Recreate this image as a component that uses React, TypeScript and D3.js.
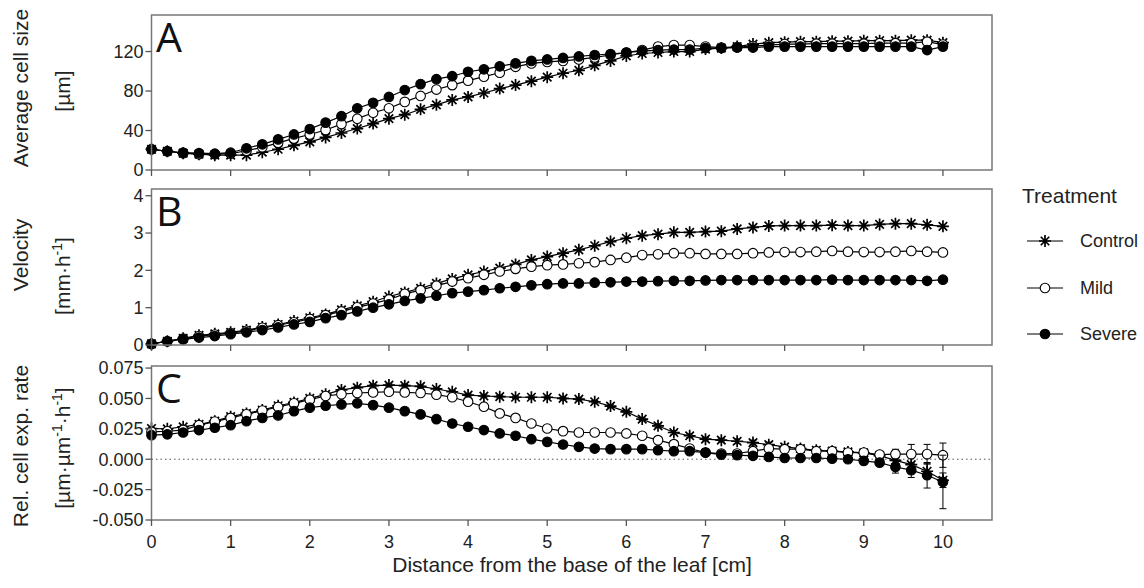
import React from 'react';
import * as d3 from 'd3';

// distance from leaf base [cm]
const distance = [
  0, 0.2, 0.4, 0.6, 0.8, 1, 1.2, 1.4, 1.6, 1.8, 2, 2.2, 2.4, 2.6, 2.8, 3, 3.2, 3.4, 3.6, 3.8,
  4, 4.2, 4.4, 4.6, 4.8, 5, 5.2, 5.4, 5.6, 5.8, 6, 6.2, 6.4, 6.6, 6.8, 7, 7.2, 7.4, 7.6, 7.8,
  8, 8.2, 8.4, 8.6, 8.8, 9, 9.2, 9.4, 9.6, 9.8, 10,
];

const treatments = ['Control', 'Mild', 'Severe'];

// A: average cell size [µm]
const sizeControl = [
  21, 19, 17, 16, 15, 15, 15, 18, 21, 25, 28.5, 33, 37.5, 42, 47, 52, 56, 61.5, 66, 71,
  74, 78, 82.5, 86, 90, 94, 98, 101, 106, 110.5, 115.5, 118, 119, 120, 120, 122.5, 123.5, 125, 127.5, 129,
  129.5, 130, 130, 130.5, 130.5, 131, 131, 131, 131.5, 131.5, 129,
];
const sizeMild = [
  21, 19, 17, 16, 16, 16.5, 19.5, 23, 27.5, 32, 36, 40.5, 46.5, 52, 58, 62.5, 69, 75, 81.5, 86,
  90.5, 94.5, 98.5, 104.5, 108, 109.5, 110.5, 112, 114, 116.5, 119, 121.5, 125, 126.5, 126.5, 125, 124, 124.5, 125.5, 126.5,
  127.5, 127.5, 128, 128, 128, 128, 128.5, 128.5, 128.5, 130, 127,
];
const sizeSevere = [
  21, 19, 17.5, 17, 16.5, 17.5, 22, 26, 31, 36, 41.5, 48, 54.5, 62.5, 68, 74, 81, 87, 92, 95,
  99.5, 102, 105, 108, 110.5, 112, 113.5, 115, 116.5, 117.5, 119, 120.5, 121.5, 122, 122, 123.5, 123.5, 124, 124, 125,
  125, 125, 125, 125, 125, 125, 125, 125, 125, 121.5, 125,
];

// B: velocity [mm h-1]
const velControl = [
  0.03, 0.1, 0.18, 0.26, 0.3, 0.34, 0.4, 0.48, 0.55, 0.64, 0.73, 0.82, 0.94, 1.05, 1.16, 1.3, 1.41, 1.52, 1.65, 1.77,
  1.88, 1.97, 2.06, 2.16, 2.28, 2.37, 2.46, 2.55, 2.66, 2.77, 2.86, 2.93, 2.97, 3.02, 3.02, 3.04, 3.05, 3.11, 3.15, 3.19,
  3.2, 3.2, 3.2, 3.21, 3.2, 3.2, 3.23, 3.25, 3.25, 3.22, 3.18,
];
const velMild = [
  0.03, 0.1, 0.17, 0.24, 0.28, 0.32, 0.38, 0.46, 0.53, 0.61, 0.7, 0.8, 0.9, 1.01, 1.11, 1.22, 1.37, 1.47, 1.59, 1.7,
  1.79, 1.88, 1.97, 2.04, 2.1, 2.14, 2.16, 2.19, 2.22, 2.28, 2.34, 2.41, 2.43, 2.46, 2.46, 2.44, 2.44, 2.44, 2.46, 2.48,
  2.49, 2.49, 2.5, 2.52, 2.5, 2.49, 2.49, 2.5, 2.52, 2.5, 2.48,
];
const velSevere = [
  0.03, 0.1, 0.15, 0.2, 0.24, 0.29, 0.34, 0.4, 0.47, 0.55, 0.62, 0.72, 0.8, 0.9, 1.0, 1.09, 1.18, 1.25, 1.32, 1.39,
  1.43, 1.47, 1.52, 1.56, 1.6, 1.63, 1.65, 1.65, 1.67, 1.68, 1.7, 1.7, 1.71, 1.72, 1.72, 1.73, 1.74, 1.74, 1.74, 1.74,
  1.74, 1.74, 1.74, 1.75, 1.74, 1.74, 1.74, 1.74, 1.74, 1.72, 1.75,
];

// C: relative cell expansion rate [µm µm-1 h-1]
const rateControl = [
  0.0253, 0.025, 0.0267, 0.0286, 0.0313, 0.035, 0.0377, 0.0404, 0.044, 0.0467, 0.05, 0.0534, 0.057, 0.0589, 0.0605, 0.061, 0.0605, 0.06, 0.0578, 0.0555,
  0.0528, 0.052, 0.0515, 0.051, 0.051, 0.051, 0.05, 0.0495, 0.0473, 0.0437, 0.039, 0.033, 0.0275, 0.022, 0.0193, 0.0165, 0.0157, 0.0148, 0.0137, 0.012,
  0.0102, 0.0088, 0.0074, 0.0066, 0.006, 0.0052, 0.003, -0.001, -0.0044, -0.0099, -0.0173,
];
const rateMild = [
  0.0225, 0.023, 0.024, 0.028, 0.031, 0.034, 0.037, 0.04, 0.043, 0.046, 0.049, 0.052, 0.0535, 0.0545, 0.055, 0.0555, 0.055, 0.0545, 0.0531, 0.051,
  0.0473, 0.0432, 0.0377, 0.034, 0.0294, 0.0253, 0.0231, 0.022, 0.022, 0.022, 0.0212, 0.0193, 0.0157, 0.0124, 0.0088, 0.0055, 0.0047, 0.0047, 0.0066, 0.0088,
  0.0083, 0.0083, 0.0066, 0.0066, 0.0055, 0.0055, 0.0038, 0.0042, 0.0042, 0.0042, 0.0033,
];
const rateSevere = [
  0.0198, 0.0205, 0.022, 0.024, 0.0259, 0.028, 0.0313, 0.034, 0.036, 0.0396, 0.0424, 0.044, 0.0451, 0.046, 0.0445, 0.0424, 0.0396, 0.0369, 0.033, 0.0294,
  0.0267, 0.024, 0.0212, 0.0193, 0.0165, 0.0143, 0.0121, 0.0102, 0.0088, 0.0083, 0.0083, 0.0083, 0.0074, 0.0066, 0.0066, 0.0055, 0.0038, 0.0033, 0.0028, 0.0019,
  0.001, 0.001, 0.001, 0.0005, 0, -0.0014, -0.0028, -0.0064, -0.009, -0.0132, -0.0187,
];
// standard errors of C (only visible near the tip)
const rateErrControl = [
  0.001, 0.001, 0.001, 0.001, 0.001, 0.001, 0.001, 0.001, 0.001, 0.001, 0.001, 0.001, 0.001, 0.001, 0.001, 0.001, 0.001, 0.001, 0.001, 0.001,
  0.001, 0.001, 0.001, 0.001, 0.001, 0.001, 0.001, 0.001, 0.001, 0.001, 0.001, 0.001, 0.0015, 0.0015, 0.0015, 0.0015, 0.0015, 0.002, 0.002, 0.002,
  0.002, 0.002, 0.002, 0.002, 0.002, 0.002, 0.002, 0.004, 0.007, 0.006, 0.006,
];
const rateErrMild = [
  0.001, 0.001, 0.001, 0.001, 0.001, 0.001, 0.001, 0.001, 0.001, 0.001, 0.001, 0.001, 0.001, 0.001, 0.001, 0.001, 0.001, 0.001, 0.001, 0.001,
  0.001, 0.001, 0.001, 0.001, 0.001, 0.001, 0.001, 0.001, 0.001, 0.001, 0.001, 0.001, 0.0015, 0.0015, 0.0015, 0.0015, 0.0015, 0.002, 0.002, 0.002,
  0.002, 0.002, 0.002, 0.002, 0.002, 0.002, 0.002, 0.004, 0.008, 0.008, 0.01,
];
const rateErrSevere = [
  0.001, 0.001, 0.001, 0.001, 0.001, 0.001, 0.001, 0.001, 0.001, 0.001, 0.001, 0.001, 0.001, 0.001, 0.001, 0.001, 0.001, 0.001, 0.001, 0.001,
  0.001, 0.001, 0.001, 0.001, 0.001, 0.001, 0.001, 0.001, 0.001, 0.001, 0.001, 0.001, 0.0015, 0.0015, 0.0015, 0.0015, 0.002, 0.003, 0.002, 0.002,
  0.002, 0.002, 0.002, 0.002, 0.002, 0.002, 0.002, 0.005, 0.006, 0.0105, 0.022,
];

const xTicks = [0, 1, 2, 3, 4, 5, 6, 7, 8, 9, 10];
const sizeTicks = [0, 40, 80, 120];
const velTicks = [0, 1, 2, 3, 4];
const rateTicks = [-0.05, -0.025, 0, 0.025, 0.05, 0.075];

const FONT = 'Liberation Sans, Arial, sans-serif';
const left = 151.5;
const right = 992;

const x = d3.scaleLinear().domain([0, 10.62]).range([left, right]);

const panels = [
  {
    letter: 'A', top: 15, bottom: 170, domain: [0, 157], ticks: sizeTicks, fmt: (v: number) => String(v),
    series: [sizeControl, sizeMild, sizeSevere], errors: null as number[][] | null,
  },
  {
    letter: 'B', top: 189, bottom: 345, domain: [0, 4.18], ticks: velTicks, fmt: (v: number) => String(v),
    series: [velControl, velMild, velSevere], errors: null as number[][] | null,
  },
  {
    letter: 'C', top: 366, bottom: 520, domain: [-0.05, 0.0767], ticks: rateTicks, fmt: (v: number) => v.toFixed(3),
    series: [rateControl, rateMild, rateSevere], errors: [rateErrControl, rateErrMild, rateErrSevere] as number[][] | null,
  },
];

const Marker = ({ kind, cx, cy }: { kind: number; cx: number; cy: number }) => {
  if (kind === 0) {
    const r = 6;
    const d = [0, 45, 90, 135]
      .map((a) => {
        const t = (a * Math.PI) / 180;
        const dx = r * Math.cos(t);
        const dy = r * Math.sin(t);
        return `M${cx - dx},${cy - dy}L${cx + dx},${cy + dy}`;
      })
      .join('');
    return <path d={d} stroke="#000" strokeWidth={1.7} fill="none" />;
  }
  return <circle cx={cx} cy={cy} r={4.8} fill={kind === 1 ? '#fff' : '#000'} stroke="#000" strokeWidth={1.1} />;
};

const Panel = ({ p }: { p: (typeof panels)[number] }) => {
  const y = d3.scaleLinear().domain(p.domain).range([p.bottom, p.top]);
  const line = d3
    .line<number>()
    .x((_, i) => x(distance[i]))
    .y((v) => y(v));
  return (
    <g>
      {p.letter === 'C' && (
        <line x1={left} x2={right} y1={y(0)} y2={y(0)} stroke="#555" strokeWidth={1} strokeDasharray="1.5,3" />
      )}
      {p.series.map((s, k) => (
        <g key={k}>
          {p.errors &&
            s.map((v, i) => {
              const e = p.errors![k][i];
              const cx = x(distance[i]);
              return (
                <g key={i} stroke="#000" strokeWidth={1}>
                  <line x1={cx} x2={cx} y1={y(v - e)} y2={y(v + e)} />
                  <line x1={cx - 3.5} x2={cx + 3.5} y1={y(v - e)} y2={y(v - e)} />
                  <line x1={cx - 3.5} x2={cx + 3.5} y1={y(v + e)} y2={y(v + e)} />
                </g>
              );
            })}
          <path d={line(s) || ''} fill="none" stroke="#000" strokeWidth={1.2} />
          {s.map((v, i) => (
            <Marker key={i} kind={k} cx={x(distance[i])} cy={y(v)} />
          ))}
        </g>
      ))}
      <rect x={left} y={p.top} width={right - left} height={p.bottom - p.top} fill="none" stroke="#777" strokeWidth={1.5} />
      {xTicks.map((t) => (
        <line key={t} x1={x(t)} x2={x(t)} y1={p.bottom} y2={p.bottom + 6} stroke="#555" strokeWidth={1.3} />
      ))}
      {p.ticks.map((t) => (
        <g key={t}>
          <line x1={left - 6} x2={left} y1={y(t)} y2={y(t)} stroke="#555" strokeWidth={1.3} />
          <text x={left - 8} y={y(t)} dy="0.35em" textAnchor="end" fontFamily={FONT} fontSize={18} fill="#222">
            {p.fmt(t)}
          </text>
        </g>
      ))}
      {p.letter === 'C' &&
        xTicks.map((t) => (
          <text key={t} x={x(t)} y={548} textAnchor="middle" fontFamily={FONT} fontSize={18} fill="#222">
            {t}
          </text>
        ))}
      <text x={156} y={p.top + 37} fontFamily="Open Sans, sans-serif" fontSize={41} fill="#111">
        {p.letter}
      </text>
    </g>
  );
};

const YTitle = ({ x0, yc, children }: { x0: number; yc: number; children: React.ReactNode }) => (
  <text transform={`translate(${x0},${yc}) rotate(-90)`} textAnchor="middle" fontFamily={FONT} fontSize={21} fill="#222">
    {children}
  </text>
);

export default function App() {
  const legendY = [241, 288, 334];
  return (
    <svg width={1144} height={588} style={{ position: 'absolute', left: 0, top: 0, background: '#fff' }}>
      {panels.map((p) => (
        <Panel key={p.letter} p={p} />
      ))}
      <YTitle x0={28} yc={88}>Average cell size</YTitle>
      <YTitle x0={70} yc={91}>[µm]</YTitle>
      <YTitle x0={28} yc={255}>Velocity</YTitle>
      <YTitle x0={70} yc={276}>
        <tspan>[mm·h</tspan>
        <tspan dy={-8} fontSize={14}>-1</tspan>
        <tspan dy={8}>]</tspan>
      </YTitle>
      <YTitle x0={28} yc={446}>Rel. cell exp. rate</YTitle>
      <YTitle x0={70} yc={448}>
        <tspan>[µm·µm</tspan>
        <tspan dy={-8} fontSize={14}>-1</tspan>
        <tspan dy={8}>·h</tspan>
        <tspan dy={-8} fontSize={14}>-1</tspan>
        <tspan dy={8}>]</tspan>
      </YTitle>
      <text x={572} y={572} textAnchor="middle" fontFamily={FONT} fontSize={21} fill="#222">
        Distance from the base of the leaf [cm]
      </text>
      <text x={1022} y={203} fontFamily={FONT} fontSize={21} fill="#222">
        Treatment
      </text>
      {treatments.map((t, k) => (
        <g key={t}>
          <line x1={1027} x2={1063} y1={legendY[k]} y2={legendY[k]} stroke="#000" strokeWidth={1.2} />
          <Marker kind={k} cx={1045} cy={legendY[k]} />
          <text x={1080} y={legendY[k]} dy="0.35em" fontFamily={FONT} fontSize={18} fill="#222">
            {t}
          </text>
        </g>
      ))}
    </svg>
  );
}
